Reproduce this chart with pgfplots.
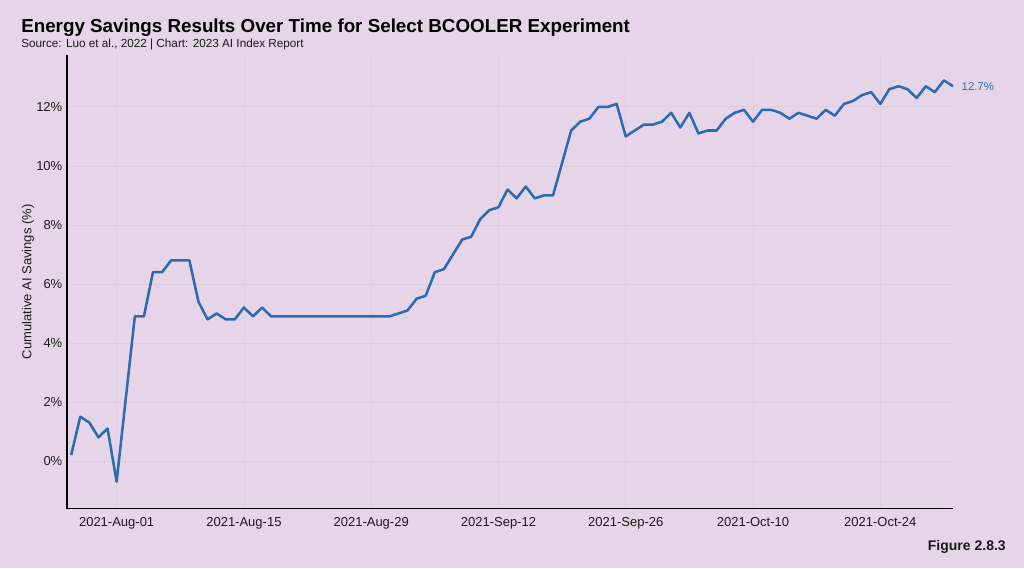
\documentclass[border=0pt]{standalone}
\usepackage{pgfplots}
\pgfplotsset{compat=1.18}
\usepackage{fontspec}
\setmainfont{Liberation Sans}
\definecolor{bgc}{HTML}{E6D5E8}
\definecolor{gridc}{HTML}{DDCDE0}
\definecolor{linec}{HTML}{2D6BB0}
\definecolor{txtc}{HTML}{1A1A1A}
\begin{document}
\begin{tikzpicture}[x=0.75pt,y=0.75pt]
\fill[bgc] (0,0) rectangle (1024,568);
\node[anchor=base west,inner sep=0,font=\fontsize{14.1}{16}\selectfont\bfseries] at (21,535) {Energy Savings Results Over Time for Select BCOOLER Experiment};
\node[anchor=base west,inner sep=0,font=\fontsize{8.8}{10}\selectfont,txtc] at (21,520.3) {Source: Luo et al., 2022 | Chart: 2023 AI Index Report};
\node[anchor=base east,inner sep=0,font=\fontsize{10.5}{12}\selectfont\bfseries,txtc] at (1006,18) {Figure 2.8.3};
\begin{axis}[
at={(50.25pt,44.48pt)}, anchor=south west,
scale only axis, width=664.5pt, height=340.3pt,
xmin=-5.46, xmax=92, ymin=-1.617, ymax=13.76,
axis x line*=bottom, axis y line*=left,
axis line style={-, black, line width=0.9pt},
major tick length=0pt,
xtick={0,14,28,42,56,70,84},
xticklabels={2021-Aug-01,2021-Aug-15,2021-Aug-29,2021-Sep-12,2021-Sep-26,2021-Oct-10,2021-Oct-24},
ytick={0,2,4,6,8,10,12},
yticklabels={0\%,2\%,4\%,6\%,8\%,10\%,12\%},
ticklabel style={font=\fontsize{9.75}{11}\selectfont, text=txtc},
xticklabel style={yshift=-3pt},
/pgf/number format/assume math mode=true,
grid=major,
major grid style={gridc, line width=0.6pt},
ylabel={Cumulative AI Savings (\%)},
ylabel style={at={(axis description cs:-0.044,0.5)}, anchor=center, font=\fontsize{9.75}{11}\selectfont, text=txtc},
clip=false,
]
\addplot[linec, line width=1.9pt, line join=round] coordinates {
(-5,0.2) (-4,1.5) (-3,1.3) (-2,0.8) (-1,1.1) (0,-0.7)
(2,4.9) (3,4.9) (4,6.4) (5,6.4) (6,6.8) (8,6.8) (9,5.4) (10,4.8)
(11,5.0) (12,4.8) (13,4.8) (14,5.2) (15,4.9) (16,5.2) (17,4.9)
(30,4.9) (31,5.0) (32,5.1) (33,5.5) (34,5.6) (35,6.4) (36,6.5)
(38,7.5) (39,7.6) (40,8.2) (41,8.5) (42,8.6) (43,9.2) (44,8.9)
(45,9.3) (46,8.9) (47,9.0) (48,9.0) (50,11.2) (51,11.5) (52,11.6)
(53,12.0) (54,12.0) (55,12.1) (56,11.0) (57,11.2) (58,11.4) (59,11.4)
(60,11.5) (61,11.8) (62,11.3) (63,11.8) (64,11.1) (65,11.2) (66,11.2)
(67,11.6) (68,11.8) (69,11.9) (70,11.5) (71,11.9) (72,11.9) (73,11.8)
(74,11.6) (75,11.8) (76,11.7) (77,11.6) (78,11.9) (79,11.7) (80,12.1)
(81,12.2) (82,12.4) (83,12.5) (84,12.1) (85,12.6) (86,12.7) (87,12.6)
(88,12.3) (89,12.7) (90,12.5) (91,12.9) (92,12.7)
};
\node[anchor=west, text=linec, font=\fontsize{8.5}{10}\selectfont, xshift=3pt] at (axis cs:92,12.7) {12.7\%};
\end{axis}
\end{tikzpicture}
\end{document}
